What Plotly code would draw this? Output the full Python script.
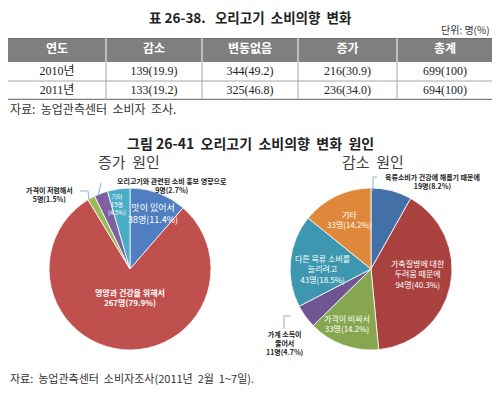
import plotly.graph_objects as go

# ---- table data ----
table_header = ["연도", "감소", "변동없음", "증가", "총계"]
years = ["2010년", "2011년"]
dec_n = [139, 133]
dec_p = ["19.9", "19.2"]
same_n = [344, 325]
same_p = ["49.2", "46.8"]
inc_n = [216, 236]
inc_p = ["30.9", "34.0"]
tot_n = [699, 694]
tot_p = ["100", "100"]

# ---- pie data: increase reasons ----
inc_labels = ["맛이 있어서", "영양과 건강을 위해서", "가격이 저렴해서",
              "오리고기와 관련된 소비 홍보 영향으로", "기타"]
inc_values = [38, 267, 5, 9, 15]
inc_pct = ["11.4", "79.9", "1.5", "2.7", "4.5"]

# ---- pie data: decrease reasons ----
dec_labels = ["육류소비가 건강에 해롭기 때문에", "가축질병에 대한<br>두려움 때문에", "가격이 비싸서",
              "가계 소득이<br>줄어서", "다른 육류 소비를<br>늘리려고", "기타"]
dec_values = [19, 94, 33, 11, 43, 33]
dec_pct = ["8.2", "40.3", "14.2", "4.7", "18.5", "14.2"]

inc_colors = ["#4F7FC0", "#C0504D", "#9BBB59", "#7F60A0", "#4BACC6"]
dec_colors = ["#4470A8", "#A9423F", "#86A74F", "#6F5592", "#3D97B0", "#E0883A"]

FONT = "Noto Sans CJK KR"
SERIF = "Liberation Serif, Noto Sans CJK KR"

# the page body has an 8px margin; work in screen pixels of the 500x398 window
OFF = 8
FW, FH = 492, 390


def px(x):
    return (x - OFF) / FW


def py(y):
    return 1 - (y - OFF) / FH


fig = go.Figure()

# ---- table drawn on a hidden cartesian grid (units: pixels inside the table) ----
col_w = [98, 96, 96, 99, 96]
edges = [0]
for w in col_w:
    edges.append(edges[-1] + w)
centers = [(a + b) / 2 for a, b in zip(edges[:-1], edges[1:])]
TW = edges[-1]
HEAD_H, ROW_H = 24, 19
TH = HEAD_H + 2 * ROW_H
row_y = [HEAD_H + ROW_H * (i + 0.5) for i in range(2)]

body_cols = [years,
             [f"{n}({p})" for n, p in zip(dec_n, dec_p)],
             [f"{n}({p})" for n, p in zip(same_n, same_p)],
             [f"{n}({p})" for n, p in zip(inc_n, inc_p)],
             [f"{n}({p})" for n, p in zip(tot_n, tot_p)]]

fig.add_trace(go.Scatter(
    x=centers, y=[HEAD_H / 2] * len(centers), mode="text",
    text=[f"<b>{h}</b>" for h in table_header], textposition="middle center",
    textfont=dict(family=FONT, size=12, color="white"),
    xaxis="x", yaxis="y", hoverinfo="skip", showlegend=False))
for r in range(2):
    fig.add_trace(go.Scatter(
        x=centers, y=[row_y[r]] * len(centers), mode="text",
        text=[col[r] for col in body_cols], textposition="middle center",
        textfont=dict(family=SERIF, size=12, color="#222222"),
        xaxis="x", yaxis="y", hoverinfo="skip", showlegend=False))

shapes = [
    dict(type="rect", xref="x", yref="y", x0=0, x1=TW, y0=0, y1=HEAD_H,
         fillcolor="#7f7f7f", line=dict(width=0), layer="below"),
    dict(type="line", xref="x", yref="y", x0=0, x1=TW, y0=0, y1=0,
         line=dict(color="#666666", width=1.5), layer="below"),
    dict(type="line", xref="x", yref="y", x0=0, x1=TW, y0=HEAD_H + ROW_H,
         y1=HEAD_H + ROW_H, line=dict(color="#a6a6a6", width=1), layer="below"),
    dict(type="line", xref="x", yref="y", x0=0, x1=TW, y0=TH, y1=TH,
         line=dict(color="#7f7f7f", width=2.5), layer="below"),
]
for e in edges[1:-1]:
    shapes.append(dict(type="line", xref="x", yref="y", x0=e, x1=e, y0=0, y1=HEAD_H,
                       line=dict(color="white", width=1), layer="below"))
    shapes.append(dict(type="line", xref="x", yref="y", x0=e, x1=e, y0=HEAD_H, y1=TH,
                       line=dict(color="#a6a6a6", width=1), layer="below"))

# ---- pies ----
R = 81
cl, cr, cy = 130, 371, 269
fig.add_trace(go.Pie(
    labels=inc_labels, values=inc_values, sort=False, direction="clockwise",
    rotation=0, textinfo="none", hoverinfo="label+value",
    marker=dict(colors=inc_colors, line=dict(color="white", width=0.8)),
    domain=dict(x=[px(cl - R), px(cl + R)], y=[py(cy + R), py(cy - R)]),
    showlegend=False,
))
fig.add_trace(go.Pie(
    labels=dec_labels, values=dec_values, sort=False, direction="clockwise",
    rotation=0, textinfo="none", hoverinfo="label+value",
    marker=dict(colors=dec_colors, line=dict(color="white", width=0.8)),
    domain=dict(x=[px(cr - R), px(cr + R)], y=[py(cy + R), py(cy - R)]),
    showlegend=False,
))

ann = []


def text(x, y, t, size=11, color="#222222", family=FONT, xanchor="center"):
    ann.append(dict(x=px(x), y=py(y), xref="paper", yref="paper", text=t,
                    showarrow=False, xanchor=xanchor, yanchor="middle",
                    font=dict(family=family, size=size, color=color)))


text(250, 17, "<b>표 26-38.   오리고기  소비의향  변화</b>", size=13.5)
text(492, 29, "단위: 명(%)", size=10, color="#333333", xanchor="right")
text(8, 109, "자료:  농업관측센터  소비자  조사.", size=12, color="#333333", xanchor="left")
text(250, 143, "<b>그림 26-41  오리고기  소비의향  변화  원인</b>", size=14)
text(129, 162, "증가  원인", size=15, color="#404040")
text(373, 162, "감소  원인", size=15, color="#404040")
text(8, 378, "자료:  농업관측센터  소비자조사(2011년  2월  1~7일).", size=11,
     color="#333333", xanchor="left")

# increase pie labels
inc_pos = [(153, 213, "white", 9), (130, 297, "white", 8),
           (49, 194, "#222222", 7), (172, 186, "#222222", 7),
           (117, 204, "white", 6)]
for lab, v, p, (x, y, c, s) in zip(inc_labels, inc_values, inc_pct, inc_pos):
    if lab == "기타":
        t = f"{lab}<br>{v}명<br>({p}%)"
    else:
        t = f"{lab}<br>{v}명({p}%)"
    bold = (c != "white") or s == 8
    text(x, y, f"<b>{t}</b>" if bold else t, size=s, color=c)

# decrease pie labels
dec_pos = [(432, 181, "#222222", 7), (418, 274, "white", 8),
           (347, 323, "white", 8), (285, 343, "#222222", 7),
           (322, 269, "white", 8), (349, 220, "white", 8)]
for lab, v, p, (x, y, c, s) in zip(dec_labels, dec_values, dec_pct, dec_pos):
    t = f"{lab}<br>{v}명({p}%)"
    text(x, y, f"<b>{t}</b>" if c != "white" else t, size=s, color=c)


def seg(x0, y0, x1, y1):
    return dict(type="line", xref="paper", yref="paper", x0=px(x0), x1=px(x1),
                y0=py(y0), y1=py(y1), line=dict(color="#8fb0d3", width=1))


shapes += [seg(101, 183, 98, 196), seg(80, 191, 88, 191), seg(88, 191, 89, 200),
           seg(377, 177, 373, 177), seg(373, 177, 373, 191),
           seg(291, 316, 284, 316), seg(284, 316, 284, 329)]

fig.update_layout(
    width=FW, height=FH, margin=dict(l=0, r=0, t=0, b=0),
    paper_bgcolor="white", plot_bgcolor="rgba(0,0,0,0)",
    annotations=ann, shapes=shapes,
    xaxis=dict(domain=[px(8), px(493)], range=[0, TW], visible=False, fixedrange=True),
    yaxis=dict(domain=[py(100), py(38)], range=[TH, 0], visible=False, fixedrange=True),
)

fig.write_html("out.html")
